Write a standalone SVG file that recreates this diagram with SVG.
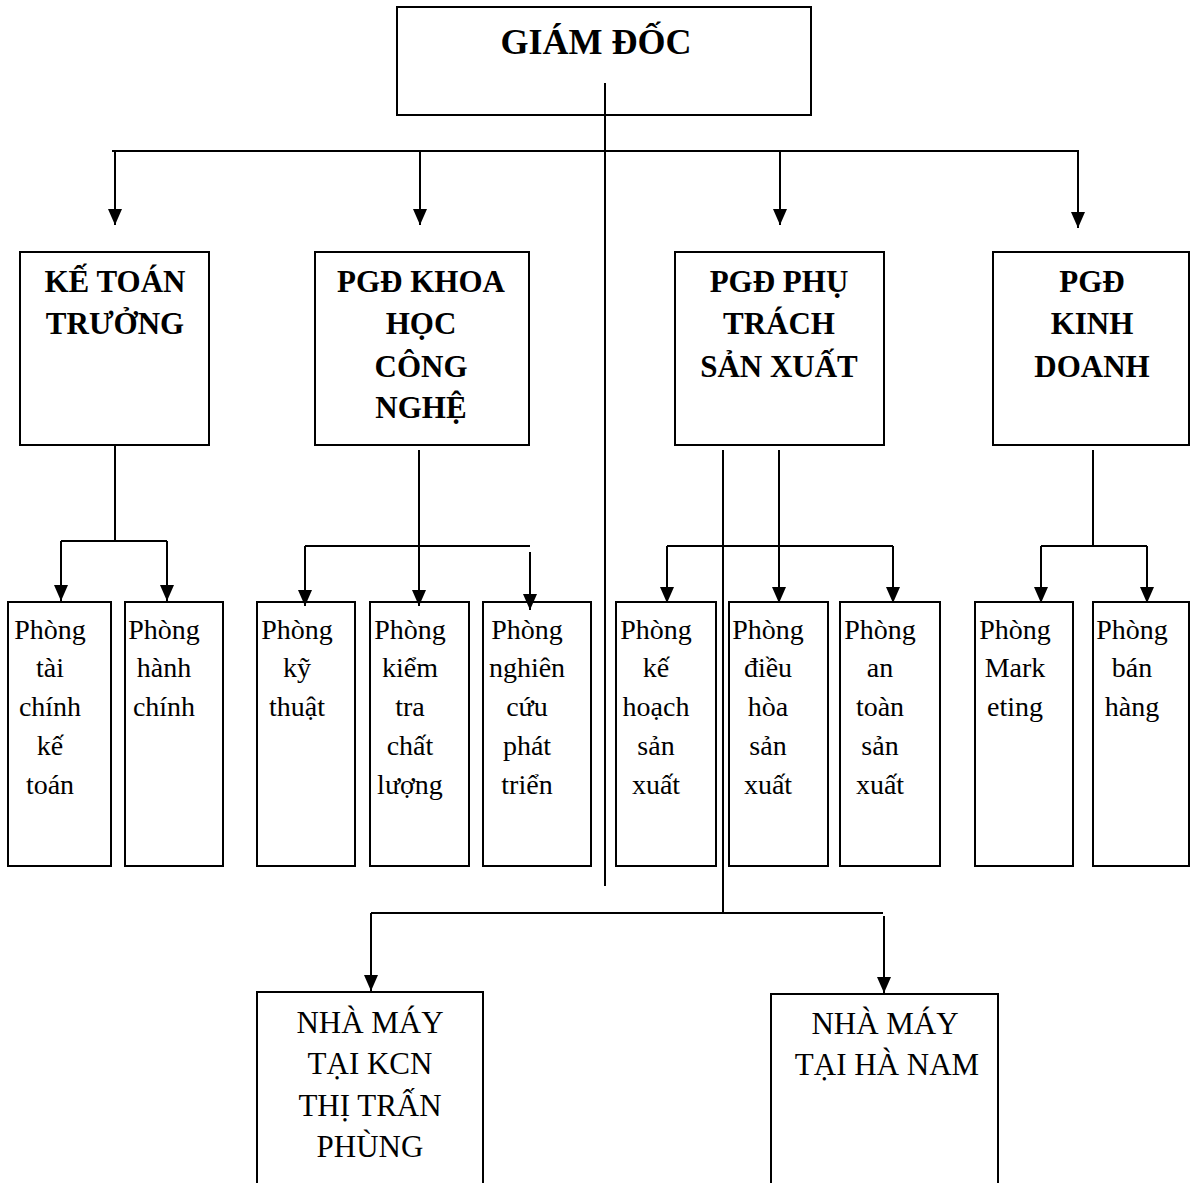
<svg xmlns="http://www.w3.org/2000/svg" width="1191" height="1183" viewBox="0 0 1191 1183">
<style>
.box{fill:#fff;stroke:#000;stroke-width:2}
.ln{stroke:#000;stroke-width:2;fill:none}
.ar{stroke:#000;stroke-width:2;fill:none;marker-end:url(#ah)}
.hb{font-family:"Liberation Serif",serif;font-weight:bold;font-size:31px;text-anchor:middle;fill:#000}
.tt{font-family:"Liberation Serif",serif;font-weight:bold;font-size:36px;text-anchor:middle;fill:#000}
.rg{font-family:"Liberation Serif",serif;font-size:28px;text-anchor:middle;fill:#000}
.nm{font-family:"Liberation Serif",serif;font-size:31px;text-anchor:middle;fill:#000}
</style>
<defs>
<marker id="ah" markerUnits="userSpaceOnUse" markerWidth="17" markerHeight="15" refX="16" refY="7" orient="auto" viewBox="0 0 17 15">
<path d="M0,0 L16,7 L0,14 z" fill="#000"/>
</marker>
</defs>
<rect width="1191" height="1183" fill="#fff"/>
<g id="giam-doc">
<rect class="box" x="397" y="7" width="414" height="108"/>
<text class="tt" x="596" y="54">GIÁM ĐỐC</text>
</g>
<g id="ke-toan-truong">
<rect class="box" x="20" y="252" width="189" height="193"/>
<text class="hb" x="115" y="292">KẾ TOÁN</text>
<text class="hb" x="115" y="334">TRƯỞNG</text>
</g>
<g id="pgd-khcn">
<rect class="box" x="315" y="252" width="214" height="193"/>
<text class="hb" x="421" y="292">PGĐ KHOA</text>
<text class="hb" x="421" y="334">HỌC</text>
<text class="hb" x="421" y="377">CÔNG</text>
<text class="hb" x="421" y="418">NGHỆ</text>
</g>
<g id="pgd-sx">
<rect class="box" x="675" y="252" width="209" height="193"/>
<text class="hb" x="779" y="292">PGĐ PHỤ</text>
<text class="hb" x="779" y="334">TRÁCH</text>
<text class="hb" x="779" y="377">SẢN XUẤT</text>
</g>
<g id="pgd-kd">
<rect class="box" x="993" y="252" width="196" height="193"/>
<text class="hb" x="1092" y="292">PGĐ</text>
<text class="hb" x="1092" y="334">KINH</text>
<text class="hb" x="1092" y="377">DOANH</text>
</g>
<g id="p-tckt">
<rect class="box" x="8" y="602" width="103" height="264"/>
<text class="rg" x="50" y="639">Phòng</text>
<text class="rg" x="50" y="677">tài</text>
<text class="rg" x="50" y="716">chính</text>
<text class="rg" x="50" y="755">kế</text>
<text class="rg" x="50" y="794">toán</text>
</g>
<g id="p-hc">
<rect class="box" x="125" y="602" width="98" height="264"/>
<text class="rg" x="164" y="639">Phòng</text>
<text class="rg" x="164" y="677">hành</text>
<text class="rg" x="164" y="716">chính</text>
</g>
<g id="p-kt">
<rect class="box" x="257" y="602" width="98" height="264"/>
<text class="rg" x="297" y="639">Phòng</text>
<text class="rg" x="297" y="677">kỹ</text>
<text class="rg" x="297" y="716">thuật</text>
</g>
<g id="p-kcl">
<rect class="box" x="370" y="602" width="99" height="264"/>
<text class="rg" x="410" y="639">Phòng</text>
<text class="rg" x="410" y="677">kiểm</text>
<text class="rg" x="410" y="716">tra</text>
<text class="rg" x="410" y="755">chất</text>
<text class="rg" x="410" y="794">lượng</text>
</g>
<g id="p-ncpt">
<rect class="box" x="483" y="602" width="108" height="264"/>
<text class="rg" x="527" y="639">Phòng</text>
<text class="rg" x="527" y="677">nghiên</text>
<text class="rg" x="527" y="716">cứu</text>
<text class="rg" x="527" y="755">phát</text>
<text class="rg" x="527" y="794">triển</text>
</g>
<g id="p-khsx">
<rect class="box" x="616" y="602" width="100" height="264"/>
<text class="rg" x="656" y="639">Phòng</text>
<text class="rg" x="656" y="677">kế</text>
<text class="rg" x="656" y="716">hoạch</text>
<text class="rg" x="656" y="755">sản</text>
<text class="rg" x="656" y="794">xuất</text>
</g>
<g id="p-dhsx">
<rect class="box" x="729" y="602" width="99" height="264"/>
<text class="rg" x="768" y="639">Phòng</text>
<text class="rg" x="768" y="677">điều</text>
<text class="rg" x="768" y="716">hòa</text>
<text class="rg" x="768" y="755">sản</text>
<text class="rg" x="768" y="794">xuất</text>
</g>
<g id="p-atsx">
<rect class="box" x="840" y="602" width="100" height="264"/>
<text class="rg" x="880" y="639">Phòng</text>
<text class="rg" x="880" y="677">an</text>
<text class="rg" x="880" y="716">toàn</text>
<text class="rg" x="880" y="755">sản</text>
<text class="rg" x="880" y="794">xuất</text>
</g>
<g id="p-mkt">
<rect class="box" x="975" y="602" width="98" height="264"/>
<text class="rg" x="1015" y="639">Phòng</text>
<text class="rg" x="1015" y="677">Mark</text>
<text class="rg" x="1015" y="716">eting</text>
</g>
<g id="p-bh">
<rect class="box" x="1093" y="602" width="96" height="264"/>
<text class="rg" x="1132" y="639">Phòng</text>
<text class="rg" x="1132" y="677">bán</text>
<text class="rg" x="1132" y="716">hàng</text>
</g>
<g id="nm-phung">
<rect class="box" x="257" y="992" width="226" height="200"/>
<text class="nm" x="370" y="1033">NHÀ MÁY</text>
<text class="nm" x="370" y="1074">TẠI KCN</text>
<text class="nm" x="370" y="1116">THỊ TRẤN</text>
<text class="nm" x="370" y="1157">PHÙNG</text>
</g>
<g id="nm-hanam">
<rect class="box" x="771" y="994" width="227" height="200"/>
<text class="nm" x="885" y="1034">NHÀ MÁY</text>
<text class="nm" x="887" y="1075">TẠI HÀ NAM</text>
</g>
<g id="connectors">
<line class="ln" x1="605" y1="83" x2="605" y2="886"/>
<line class="ln" x1="112" y1="151" x2="1079" y2="151"/>
<line class="ar" x1="115" y1="151" x2="115" y2="225"/>
<line class="ar" x1="420" y1="151" x2="420" y2="225"/>
<line class="ar" x1="780" y1="151" x2="780" y2="225"/>
<line class="ar" x1="1078" y1="151" x2="1078" y2="228"/>
<line class="ln" x1="115" y1="445" x2="115" y2="541"/>
<line class="ln" x1="61" y1="541" x2="167" y2="541"/>
<line class="ar" x1="61" y1="541" x2="61" y2="601"/>
<line class="ar" x1="167" y1="541" x2="167" y2="601"/>
<line class="ln" x1="419" y1="450" x2="419" y2="546"/>
<line class="ln" x1="305" y1="546" x2="530" y2="546"/>
<line class="ar" x1="305" y1="546" x2="305" y2="606"/>
<line class="ar" x1="419" y1="546" x2="419" y2="606"/>
<line class="ar" x1="530" y1="552" x2="530" y2="610"/>
<line class="ln" x1="723" y1="450" x2="723" y2="913"/>
<line class="ar" x1="779" y1="450" x2="779" y2="603"/>
<line class="ln" x1="667" y1="546" x2="893" y2="546"/>
<line class="ar" x1="667" y1="546" x2="667" y2="603"/>
<line class="ar" x1="893" y1="546" x2="893" y2="603"/>
<line class="ln" x1="1093" y1="450" x2="1093" y2="546"/>
<line class="ln" x1="1041" y1="546" x2="1147" y2="546"/>
<line class="ar" x1="1041" y1="546" x2="1041" y2="603"/>
<line class="ar" x1="1147" y1="546" x2="1147" y2="603"/>
<line class="ln" x1="371" y1="913" x2="883" y2="913"/>
<line class="ar" x1="371" y1="913" x2="371" y2="991"/>
<line class="ar" x1="884" y1="916" x2="884" y2="993"/>
</g>
</svg>
